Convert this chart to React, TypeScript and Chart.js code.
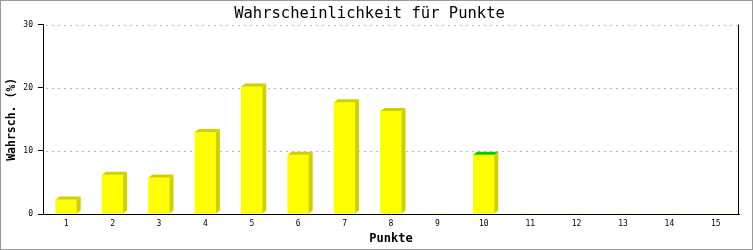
import React, { useEffect, useRef } from "react";
import { Chart, registerables } from "chart.js";

Chart.register(...registerables);

const categories = ["1", "2", "3", "4", "5", "6", "7", "8", "9", "10", "11", "12", "13", "14", "15"];
const values = [2.3, 6.2, 5.8, 13.0, 20.2, 9.4, 17.7, 16.3, 0, 9.4, 0, 0, 0, 0, 0];
const yTicks = [0, 10, 20, 30];
const titleText = "Wahrscheinlichkeit für Punkte";
const xTitle = "Punkte";
const yTitle = "Wahrsch. (%)";

const FACE = "#ffff00";
const SIDE = "#d0d000";
const topColors = values.map((_, i) => (i === 9 ? "#00cc00" : SIDE));
const MONO = "'DejaVu Sans Mono', monospace";

const bar3d = {
  id: "bar3d",
  beforeDatasetsDraw(chart: any) {
    const { ctx, chartArea } = chart;
    const y = chart.scales.y;
    ctx.save();
    ctx.strokeStyle = "#bbbbbb";
    ctx.lineWidth = 1;
    ctx.setLineDash([2, 4]);
    yTicks.forEach((v) => {
      if (v === 0) return;
      const py = Math.round(y.getPixelForValue(v)) + 0.5;
      ctx.beginPath();
      ctx.moveTo(chartArea.left + 3, py);
      ctx.lineTo(chartArea.right - 2, py);
      ctx.stroke();
    });
    ctx.restore();
  },
  afterDatasetsDraw(chart: any) {
    const { ctx, chartArea } = chart;
    const meta = chart.getDatasetMeta(0);
    const dx = 4;
    const dy = 3;
    ctx.save();
    meta.data.forEach((el: any, i: number) => {
      if (!values[i]) return;
      const { x, y, base, width } = el.getProps(["x", "y", "base", "width"], true);
      const l = x - width / 2;
      const r = x + width / 2;
      ctx.fillStyle = SIDE;
      ctx.beginPath();
      ctx.moveTo(r, y);
      ctx.lineTo(r + dx, y - dy);
      ctx.lineTo(r + dx, base - dy);
      ctx.lineTo(r, base);
      ctx.closePath();
      ctx.fill();
      ctx.fillStyle = topColors[i];
      ctx.beginPath();
      ctx.moveTo(l, y);
      ctx.lineTo(l + dx, y - dy);
      ctx.lineTo(r + dx, y - dy);
      ctx.lineTo(r, y);
      ctx.closePath();
      ctx.fill();
    });
    // right frame line
    ctx.strokeStyle = "#000";
    ctx.lineWidth = 1;
    ctx.beginPath();
    ctx.moveTo(chartArea.right - 0.5, chartArea.top);
    ctx.lineTo(chartArea.right - 0.5, chartArea.bottom);
    ctx.stroke();
    ctx.restore();
  },
  afterDraw(chart: any) {
    const { ctx, width, height } = chart;
    ctx.save();
    ctx.strokeStyle = "#999999";
    ctx.lineWidth = 1;
    ctx.strokeRect(0.5, 0.5, width - 1, height - 1);
    ctx.restore();
  },
};

export default function App() {
  const ref = useRef<HTMLCanvasElement>(null);
  useEffect(() => {
    if (!ref.current) return;
    const chart = new Chart(ref.current, {
      type: "bar",
      data: {
        labels: categories,
        datasets: [
          {
            data: values,
            backgroundColor: FACE,
            borderWidth: 0,
            barThickness: 21,
          },
        ],
      },
      options: {
        responsive: false,
        animation: false,
        devicePixelRatio: 1,
        layout: { padding: { left: 0, right: 14, top: 0, bottom: 0 } },
        plugins: {
          legend: { display: false },
          tooltip: { enabled: false },
          title: {
            display: true,
            text: titleText,
            color: "#000",
            font: { family: MONO, size: 15.5, weight: "normal", lineHeight: 1.2 },
            padding: { top: 5, bottom: 1 },
          },
        },
        scales: {
          x: {
            grid: { display: false, drawTicks: false },
            border: { display: true, color: "#000", width: 1 },
            ticks: { color: "#000", font: { family: MONO, size: 8 }, padding: 5 },
            title: {
              display: true,
              text: xTitle,
              color: "#000",
              font: { family: MONO, size: 12, weight: "bold" },
              padding: { top: 0, bottom: 4 },
            },
            afterFit: (s: any) => {
              s.height = 36;
            },
          },
          y: {
            min: 0,
            max: 30,
            grid: {
              display: true,
              drawOnChartArea: false,
              drawTicks: true,
              tickLength: 5,
              color: "#000",
            },
            border: { display: true, color: "#000", width: 1 },
            ticks: {
              stepSize: 10,
              color: "#000",
              font: { family: MONO, size: 8 },
              padding: 5,
            },
            title: {
              display: true,
              text: yTitle,
              color: "#000",
              font: { family: MONO, size: 11.5, weight: "bold" },
              padding: { top: 5, bottom: 0 },
            },
            afterFit: (s: any) => {
              s.width = 43;
            },
          },
        },
      },
      plugins: [bar3d],
    });
    return () => chart.destroy();
  }, []);
  return (
    <canvas
      ref={ref}
      width={753}
      height={250}
      style={{ position: "fixed", left: 0, top: 0, width: 753, height: 250 }}
    />
  );
}
